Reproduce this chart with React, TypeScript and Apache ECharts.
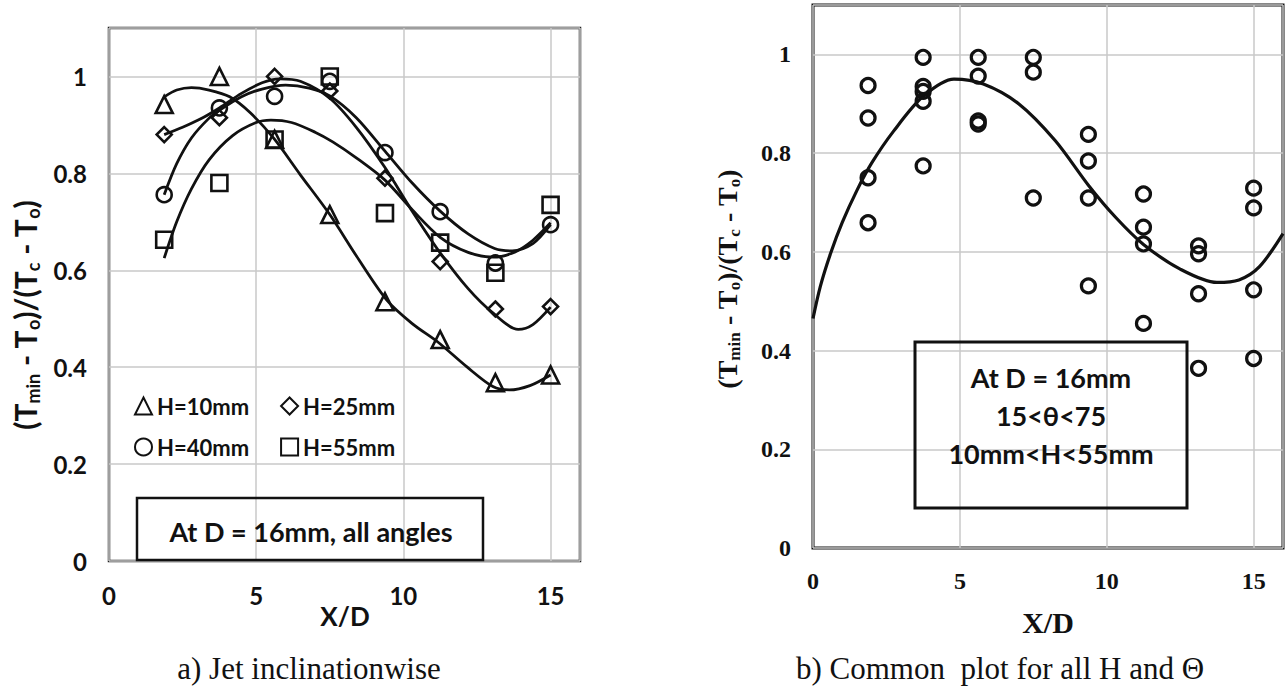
import React, { useEffect, useRef } from "react";
import * as echarts from "echarts";

// ---------- data ----------
const X_POS = [1.875, 3.75, 5.625, 7.5, 9.375, 11.25, 13.125, 15];

// panel a) measured points
const H10 = [0.942, 1.0, 0.87, 0.715, 0.535, 0.457, 0.368, 0.384];
const H25 = [0.88, 0.915, 1.0, 0.97, 0.79, 0.618, 0.52, 0.525];
const H40 = [0.756, 0.935, 0.959, 0.99, 0.843, 0.721, 0.615, 0.694];
const H55 = [0.663, 0.78, 0.87, 1.0, 0.718, 0.657, 0.595, 0.735];

// panel a) trend curves (read off the picture)
const FIT10_X = [1.875, 2.3, 2.8, 3.4, 4.1, 4.8, 5.6, 6.5, 7.5, 8.4, 9.43, 10.3, 11.17, 12.15, 13.04, 13.6, 14.3, 15];
const FIT10_Y = [0.958, 0.972, 0.977, 0.972, 0.958, 0.925, 0.872, 0.797, 0.715, 0.63, 0.539, 0.49, 0.452, 0.401, 0.36, 0.353, 0.362, 0.384];
const FIT25_X = [1.875, 2.5, 3.1, 3.75, 4.5, 5.2, 5.8, 6.5, 7.5, 8.4, 9.375, 10.3, 11.25, 12.2, 13.04, 13.9, 14.4, 15];
const FIT25_Y = [0.88, 0.895, 0.912, 0.935, 0.965, 0.987, 0.995, 0.99, 0.955, 0.895, 0.812, 0.722, 0.636, 0.562, 0.512, 0.478, 0.488, 0.524];
const FIT40_X = [1.875, 2.3, 2.8, 3.4, 3.75, 4.5, 5.2, 6, 6.8, 7.5, 8.4, 9.375, 10.3, 11.25, 12.2, 13.1, 13.7, 14.4, 15];
const FIT40_Y = [0.756, 0.82, 0.873, 0.914, 0.93, 0.958, 0.974, 0.982, 0.976, 0.96, 0.915, 0.846, 0.78, 0.722, 0.675, 0.645, 0.64, 0.655, 0.694];
const FIT55_X = [1.875, 2.3, 2.8, 3.4, 4.2, 5, 5.5, 6.2, 7, 7.6, 8.4, 9.375, 10.3, 11.25, 12.2, 13.06, 13.8, 14.4, 15];
const FIT55_Y = [0.625, 0.7, 0.768, 0.828, 0.878, 0.905, 0.91, 0.905, 0.885, 0.865, 0.832, 0.786, 0.725, 0.668, 0.637, 0.627, 0.638, 0.662, 0.698];

// panel b) all points, grouped by X/D position
const ALL_Y = [
  [0.937, 0.871, 0.75, 0.659],
  [0.994, 0.935, 0.925, 0.905, 0.774],
  [0.994, 0.956, 0.865, 0.859],
  [0.994, 0.964, 0.709],
  [0.838, 0.784, 0.709, 0.531],
  [0.717, 0.65, 0.616, 0.455],
  [0.612, 0.596, 0.515, 0.364],
  [0.729, 0.689, 0.523, 0.384],
];
const FITALL_X = [0, 0.25, 0.6, 1, 1.5, 2, 2.75, 3.75, 4.8, 5.8, 7, 8.25, 9.375, 10.3, 11.25, 12.5, 13.75, 14.5, 15.2, 16];
const FITALL_Y = [0.465, 0.53, 0.597, 0.66, 0.725, 0.78, 0.845, 0.915, 0.95, 0.94, 0.9, 0.825, 0.735, 0.67, 0.615, 0.565, 0.538, 0.543, 0.57, 0.637];

const LEGEND_NAMES = ["H=10mm", "H=25mm", "H=40mm", "H=55mm"];
const LEGEND_SYMBOLS = ["triangle", "diamond", "circle", "rect"];
const LEGEND_SIZES = [17, 15, 15, 16];

const SANS = "Lato, 'Liberation Sans', sans-serif";
const SERIF = "'Liberation Serif', 'DejaVu Serif', serif";
const INK = "#111111";

const pairs = (xs: number[], ys: number[]) => xs.map((x, i) => [x, ys[i]]);

export default function App() {
  const ref = useRef<HTMLDivElement>(null);

  useEffect(() => {
    if (!ref.current) return;
    const chart = echarts.init(ref.current, undefined, { renderer: "svg" });

    const gridLine = { show: true, lineStyle: { color: "#c8c8c8", width: 1.5 } };
    const xFmt = (v: number) => (v > 15.5 ? "" : String(v));
    const yFmt = (v: number) => (v > 1.05 ? "" : String(+v.toFixed(1)));

    const fitSeries = (xs: number[], ys: number[], idx: number, w: number) => ({
      type: "line",
      xAxisIndex: idx,
      yAxisIndex: idx,
      data: pairs(xs, ys),
      smooth: 0.3,
      symbol: "none",
      silent: true,
      lineStyle: { color: INK, width: w, opacity: 1 },
      z: 2,
    });

    const groups = [H10, H25, H40, H55];
    const scatterA = groups.map((ys, k) => ({
      name: LEGEND_NAMES[k],
      type: "scatter",
      xAxisIndex: 0,
      yAxisIndex: 0,
      symbol: LEGEND_SYMBOLS[k],
      symbolSize: LEGEND_SIZES[k],
      data: pairs(X_POS, ys),
      itemStyle: { color: "rgba(0,0,0,0)", borderColor: INK, borderWidth: 2.6, opacity: 1 },
      z: 3,
    }));

    const allPts = ALL_Y.flatMap((ys, i) => ys.map((y) => [X_POS[i], y]));

    const titleRich = (big: number, small: number, family: string) => ({
      n: { fontSize: big, lineHeight: big + 4, fontFamily: family, fontWeight: "bold", fill: INK },
      s: {
        fontSize: small,
        lineHeight: small,
        verticalAlign: "bottom",
        fontFamily: family,
        fontWeight: "bold",
        fill: INK,
      },
    });
    const titleText = "{n|(T}{s|min}{n| - T}{s|o}{n|)/(T}{s|c}{n| - T}{s|o}{n|)}";

    const option: any = {
      animation: false,
      backgroundColor: "#ffffff",
      textStyle: { fontFamily: SANS },
      grid: [
        {
          left: 109, top: 28, width: 471, height: 533,
          show: true, borderColor: "#222", borderWidth: 2.5,
          backgroundColor: "transparent", outerBoundsMode: "none",
        },
        {
          left: 813, top: 5, width: 470, height: 543,
          show: true, borderColor: "#111", borderWidth: 3,
          backgroundColor: "transparent", outerBoundsMode: "none",
        },
      ],
      xAxis: [
        {
          gridIndex: 0, type: "value", min: 0, max: 16, interval: 5,
          axisLine: { show: false }, axisTick: { show: false }, splitLine: gridLine,
          axisLabel: { fontSize: 24, fontWeight: "bold", fontFamily: SANS, color: INK, margin: 22, formatter: xFmt },
        },
        {
          gridIndex: 1, type: "value", min: 0, max: 16, interval: 5,
          axisLine: { show: false }, axisTick: { show: false }, splitLine: gridLine,
          axisLabel: { fontSize: 24, fontWeight: "bold", fontFamily: SERIF, color: INK, margin: 21, formatter: xFmt },
        },
      ],
      yAxis: [
        {
          gridIndex: 0, type: "value", min: 0, max: 1.1, interval: 0.2,
          axisLine: { show: false }, axisTick: { show: false }, splitLine: gridLine,
          axisLabel: { fontSize: 24, fontWeight: "bold", fontFamily: SANS, color: INK, margin: 22, formatter: yFmt },
        },
        {
          gridIndex: 1, type: "value", min: 0, max: 1.1, interval: 0.2,
          axisLine: { show: false }, axisTick: { show: false }, splitLine: gridLine,
          axisLabel: { fontSize: 24, fontWeight: "bold", fontFamily: SERIF, color: INK, margin: 22, formatter: yFmt },
        },
      ],
      legend: [
        {
          data: LEGEND_NAMES.slice(0, 2), left: 129, top: 390, itemGap: 31,
          itemWidth: 17, itemHeight: 17, selectedMode: false,
          textStyle: { fontSize: 22, fontWeight: "bold", fontFamily: SANS, color: INK },
        },
        {
          data: LEGEND_NAMES.slice(2, 4), left: 129, top: 431, itemGap: 31,
          itemWidth: 17, itemHeight: 17, selectedMode: false,
          textStyle: { fontSize: 22, fontWeight: "bold", fontFamily: SANS, color: INK },
        },
      ],
      series: [
        fitSeries(FIT10_X, FIT10_Y, 0, 2.8),
        fitSeries(FIT25_X, FIT25_Y, 0, 2.8),
        fitSeries(FIT40_X, FIT40_Y, 0, 2.8),
        fitSeries(FIT55_X, FIT55_Y, 0, 2.8),
        ...scatterA,
        fitSeries(FITALL_X, FITALL_Y, 1, 3.2),
        {
          name: "all",
          type: "scatter",
          xAxisIndex: 1,
          yAxisIndex: 1,
          symbol: "circle",
          symbolSize: 14,
          data: allPts,
          itemStyle: { color: "rgba(0,0,0,0)", borderColor: INK, borderWidth: 3.2, opacity: 1 },
          z: 3,
        },
      ],
      graphic: [
        // panel a) y title
        {
          type: "text", x: 25, y: 315, rotation: Math.PI / 2,
          style: { text: titleText, rich: titleRich(30, 18, SANS), align: "center", verticalAlign: "middle" },
        },
        // panel b) y title
        {
          type: "text", x: 727, y: 279, rotation: Math.PI / 2,
          style: { text: titleText, rich: titleRich(28, 17, SERIF), align: "center", verticalAlign: "middle" },
        },
        // x titles
        {
          type: "text", x: 345, y: 616,
          style: { text: "X/D", fontSize: 26, fontWeight: "bold", fontFamily: SANS, fill: INK, align: "center", verticalAlign: "middle" },
        },
        {
          type: "text", x: 1048, y: 622,
          style: { text: "X/D", fontSize: 30, fontWeight: "bold", fontFamily: SERIF, fill: INK, align: "center", verticalAlign: "middle" },
        },
        // panel a) annotation box
        {
          type: "rect", shape: { x: 137, y: 498, width: 346, height: 62 },
          style: { fill: "none", stroke: INK, lineWidth: 2.5 }, z: 10,
        },
        {
          type: "text", x: 311, y: 531, z: 11,
          style: { text: "At D = 16mm, all angles", fontSize: 27, fontWeight: "bold", fontFamily: SANS, fill: INK, align: "center", verticalAlign: "middle" },
        },
        // panel b) annotation box
        {
          type: "rect", shape: { x: 915, y: 342, width: 272, height: 166 },
          style: { fill: "none", stroke: INK, lineWidth: 3 }, z: 10,
        },
        {
          type: "text", x: 1051, y: 415, z: 11,
          style: {
            text: "At D = 16mm\n15<θ<75\n10mm<H<55mm",
            fontSize: 27, lineHeight: 38, fontWeight: "bold", fontFamily: SANS, fill: INK,
            align: "center", verticalAlign: "middle",
          },
        },
        // captions
        {
          type: "text", x: 309, y: 668,
          style: { text: "a) Jet inclinationwise", fontSize: 31, fontFamily: SERIF, fill: INK, align: "center", verticalAlign: "middle" },
        },
        {
          type: "text", x: 1000, y: 668,
          style: { text: "b) Common  plot for all H and Θ", fontSize: 31, fontFamily: SERIF, fill: INK, align: "center", verticalAlign: "middle" },
        },
      ],
    };

    chart.setOption(option);
    return () => chart.dispose();
  }, []);

  return (
    <div
      ref={ref}
      style={{ position: "absolute", left: 0, top: 0, width: 1288, height: 688, background: "#fff" }}
    />
  );
}
